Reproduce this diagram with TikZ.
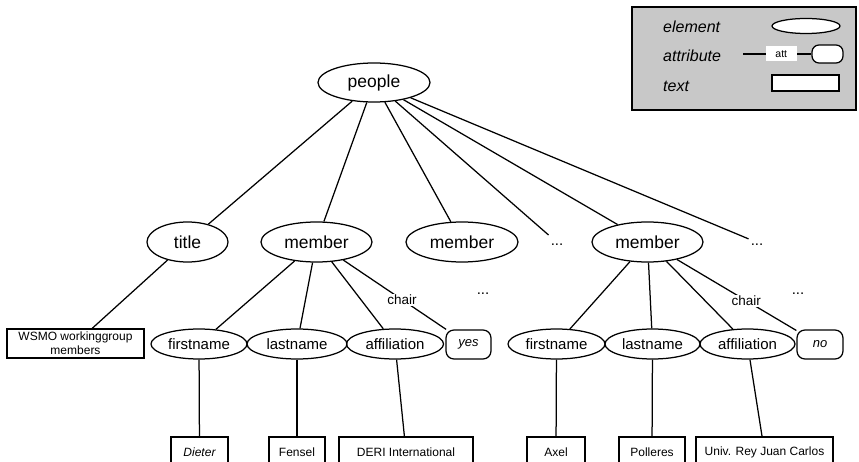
\documentclass[tikz,border=0pt]{standalone}
\usepackage{fontspec}
\setmainfont{Liberation Sans}
\usetikzlibrary{shapes.geometric}
\definecolor{legendgray}{RGB}{200,200,200}
\begin{document}
\begin{tikzpicture}[x=1pt,y=-1pt,
  elem/.style={draw,ellipse,line width=1.25pt,inner sep=0pt,minimum height=#1},
  big/.style={elem=40pt,font=\fontsize{17.5}{20}\selectfont},
  small/.style={elem=30pt,font=\fontsize{15}{18}\selectfont},
  attr/.style={draw,rounded corners=8pt,line width=1.25pt,minimum height=29pt,inner sep=0pt,font=\fontsize{13}{15}\selectfont\itshape},
  txt/.style={draw,rectangle,line width=1.25pt,inner sep=0pt,minimum height=30pt,font=\fontsize{12}{14}\selectfont},
  dots/.style={inner sep=2pt,font=\fontsize{15}{18}\selectfont},
  conn/.style={line width=1.25pt},
  lab/.style={fill=white,inner sep=1pt,font=\fontsize{13.5}{16}\selectfont},
  legtext/.style={anchor=base west,inner sep=0pt,font=\fontsize{16}{19}\selectfont\itshape}
]
\useasboundingbox (0,0) rectangle (859,462);
\clip (0,0) rectangle (859,462);

% legend
\node[draw,fill=legendgray,line width=1.4pt,minimum width=224pt,minimum height=103pt,inner sep=0pt] (legend) at (744,58.5) {};
\node[legtext] (lelemtxt) at (663,33) {element};
\node[legtext] (lattrtxt) at (663,62) {attribute};
\node[legtext] (ltexttxt) at (663,92) {text};
\node[draw,ellipse,fill=white,line width=1.25pt,inner sep=0pt,minimum width=68pt,minimum height=15pt] (lelem) at (806,26) {};
\node[draw,fill=white,rounded corners=7pt,line width=1.25pt,inner sep=0pt,minimum width=31pt,minimum height=18pt] (lattr) at (827.5,54) {};
\coordinate (attstart) at (743,54);
\draw[conn] (attstart) -- node[pos=0.56,fill=white,inner sep=0pt,minimum width=31pt,minimum height=15pt,font=\fontsize{10.5}{12}\selectfont] (latt) {att} (lattr);
\node[draw,fill=white,line width=1.25pt,inner sep=0pt,minimum width=67pt,minimum height=16pt] (ltext) at (805.5,83) {};

% root
\node[elem=39pt,minimum width=112pt,font=\fontsize{17.5}{20}\selectfont] (people) at (374,82.5) {people};

% level 2
\node[big,minimum width=81pt] (title) at (187.5,242) {title};
\node[big,minimum width=111pt] (m1) at (316.5,242) {member};
\node[big,minimum width=112pt] (m2) at (462,242) {member};
\node[dots] (d1) at (557,242.4) {\strut...};
\node[big,minimum width=111pt] (m3) at (647.5,242) {member};
\node[dots] (d2) at (757,242.4) {\strut...};

\foreach \t in {title,m1,m2,d1,m3,d2} \draw[conn] (people) -- (\t);

% level 3
\node[txt,minimum width=137pt,minimum height=29pt,align=center] (wsmo) at (75.5,343.5) {WSMO workinggroup\\members};
\node[small,minimum width=96pt] (fn1) at (199,344) {firstname};
\node[small,minimum width=100pt] (ln1) at (297,344) {lastname};
\node[small,minimum width=97pt] (af1) at (395,344) {affiliation};
\node[attr,minimum width=45pt] (yes) at (468.5,344.5) {yes};
\node[dots] (d3) at (483,290.5) {\strut...};

\node[small,minimum width=97pt] (fn2) at (556.5,344) {firstname};
\node[small,minimum width=95pt] (ln2) at (652.5,344) {lastname};
\node[small,minimum width=95pt] (af2) at (747.5,344) {affiliation};
\node[attr,minimum width=46pt] (no) at (820,344.5) {no};
\node[dots] (d4) at (798,290.5) {\strut...};

\draw[conn] (title) -- (wsmo);
\draw[conn] (m1) -- (fn1);
\draw[conn] (m1) -- (ln1);
\draw[conn] (m1) -- (af1);
\draw[conn] (m1) -- node[lab,pos=0.57] (chair1) {chair} (yes);
\draw[conn] (m3) -- (fn2);
\draw[conn] (m3) -- (ln2);
\draw[conn] (m3) -- (af2);
\draw[conn] (m3) -- node[lab,pos=0.58] (chair2) {chair} (no);

% level 4
\node[txt,minimum width=57pt,font=\fontsize{12}{14}\selectfont\itshape] (dieter) at (199.5,452) {Dieter};
\node[txt,minimum width=56pt] (fensel) at (297,452) {Fensel};
\node[txt,minimum width=134pt] (deri) at (406,452) {DERI International};
\node[txt,minimum width=58pt] (axel) at (556,452) {Axel};
\node[txt,minimum width=66pt] (polleres) at (652,452) {Polleres};
\node[txt,minimum width=137pt] (urjc) at (764.5,452) {Univ. Rey Juan Carlos};

\draw[conn] (fn1) -- (dieter);
\draw[conn] (ln1) -- (fensel);
\draw[conn] (af1) -- (deri);
\draw[conn] (fn2) -- (axel);
\draw[conn] (ln2) -- (polleres);
\draw[conn] (af2) -- (urjc);
\end{tikzpicture}
\end{document}
